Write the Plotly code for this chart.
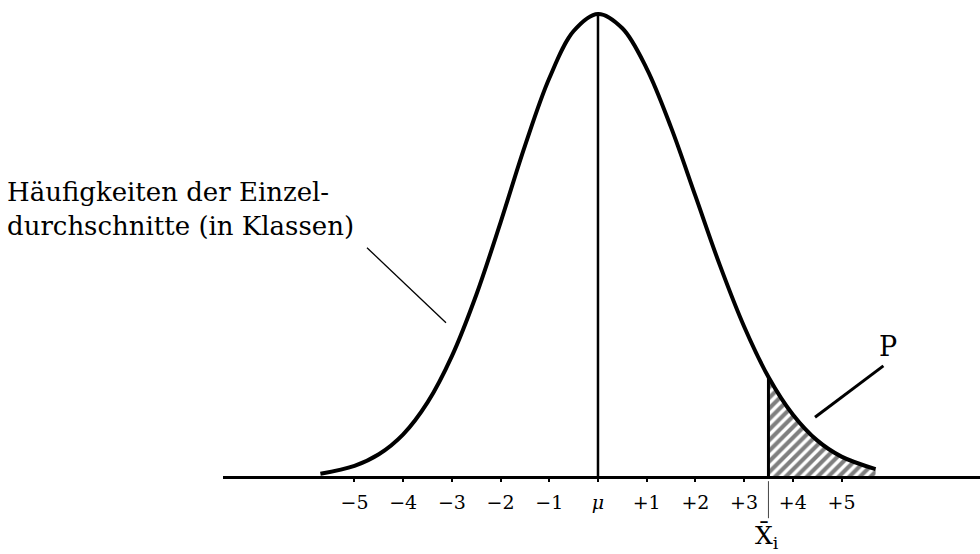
import plotly.graph_objects as go

# Positions in class widths from mu, and curve heights (peak = 100)
class_pos = [-5.7, -5.0, -4.5, -4.0, -3.5, -3.0, -2.5, -2.0, -1.5, -1.0, -0.5, 0.0,
             0.5, 1.0, 1.5, 2.0, 2.5, 3.0, 3.5, 4.0, 4.5, 5.0, 5.7]
freq = [0.7, 2.4, 4.9, 9.2, 16.1, 26.1, 39.3, 55.0, 71.5, 86.1, 96.3, 100.0,
        96.9, 88.2, 75.5, 60.7, 45.8, 32.5, 21.6, 13.5, 7.9, 4.4, 1.7]

tick_vals = [-5, -4, -3, -2, -1, 0, 1, 2, 3, 4, 5]
tick_text = ["\u22125", "\u22124", "\u22123", "\u22122", "\u22121", "<i>\u03bc</i>",
             "+1", "+2", "+3", "+4", "+5"]

xbar_i = 3.5  # observed mean of the sample

SERIF = "DejaVu Serif"
x_range = [-7.70, 7.844]
y_range = [-16.63, 103.0]

# tail beyond xbar_i (the probability P)
tail_x = [p for p in class_pos if p >= xbar_i]
tail_y = [f for p, f in zip(class_pos, freq) if p >= xbar_i]
f_at_xbar = tail_y[0]
peak = max(freq)

fig = go.Figure()

fig.add_trace(go.Scatter(
    x=tail_x, y=tail_y, mode="lines", line=dict(width=0, shape="spline"),
    fill="tozeroy", fillcolor="white",
    fillpattern=dict(shape="/", fgcolor="black", bgcolor="white", size=7.5, solidity=0.55),
    hoverinfo="skip"))

fig.add_trace(go.Scatter(
    x=class_pos, y=freq, mode="lines",
    line=dict(color="black", width=4, shape="spline")))

# mu line
fig.add_trace(go.Scatter(x=[0, 0], y=[0, peak], mode="lines",
                         line=dict(color="black", width=2.5)))

# left edge of the hatched area at xbar_i
fig.add_trace(go.Scatter(x=[xbar_i, xbar_i], y=[0, f_at_xbar], mode="lines",
                         line=dict(color="black", width=3)))

# thin marker under the axis at xbar_i
fig.add_trace(go.Scatter(x=[xbar_i, xbar_i], y=[-0.9, -8.9], mode="lines",
                         line=dict(color="#444", width=1)))

# pointer lines
fig.add_trace(go.Scatter(x=[4.456, 5.86], y=[12.9, 24.0], mode="lines",
                         line=dict(color="black", width=3)))
fig.add_trace(go.Scatter(x=[-4.743, -3.121], y=[49.5, 33.3], mode="lines",
                         line=dict(color="black", width=1.3)))

fig.add_annotation(x=5.96, y=28.1, xref="x", yref="y", text="P", showarrow=False,
                   font=dict(family=SERIF, size=27, color="black"))
fig.add_annotation(x=xbar_i - 0.03, y=-13.0, xref="x", yref="y",
                   text="X\u0304<sub>i</sub>", showarrow=False,
                   font=dict(family=SERIF, size=25, color="black"))
fig.add_annotation(x=0.005, y=1 - 209 / 554, xref="paper", yref="paper", xanchor="left",
                   yanchor="middle", align="left", showarrow=False,
                   text="Häufigkeiten der Einzel-<br>durchschnitte (in Klassen)",
                   font=dict(family=SERIF, size=26, color="black"))

axis_pos = (0 - y_range[0]) / (y_range[1] - y_range[0])

fig.update_layout(
    width=980, height=554,
    margin=dict(l=0, r=0, t=0, b=0),
    paper_bgcolor="white", plot_bgcolor="white",
    showlegend=False,
    xaxis=dict(range=x_range, domain=[223 / 980, 1], anchor="free", position=axis_pos,
               showline=True, linecolor="black", linewidth=2.5,
               ticks="outside", ticklen=3, tickwidth=2, tickcolor="black",
               tickvals=tick_vals, ticktext=tick_text, ticklabelstandoff=4,
               tickfont=dict(family=SERIF, size=19, color="black"),
               showgrid=False, zeroline=False, fixedrange=True),
    yaxis=dict(range=y_range, visible=False, showgrid=False, zeroline=False,
               fixedrange=True),
)

fig.write_html("out.html", config={"displayModeBar": False},
               post_script="document.body.style.margin = '0';")
